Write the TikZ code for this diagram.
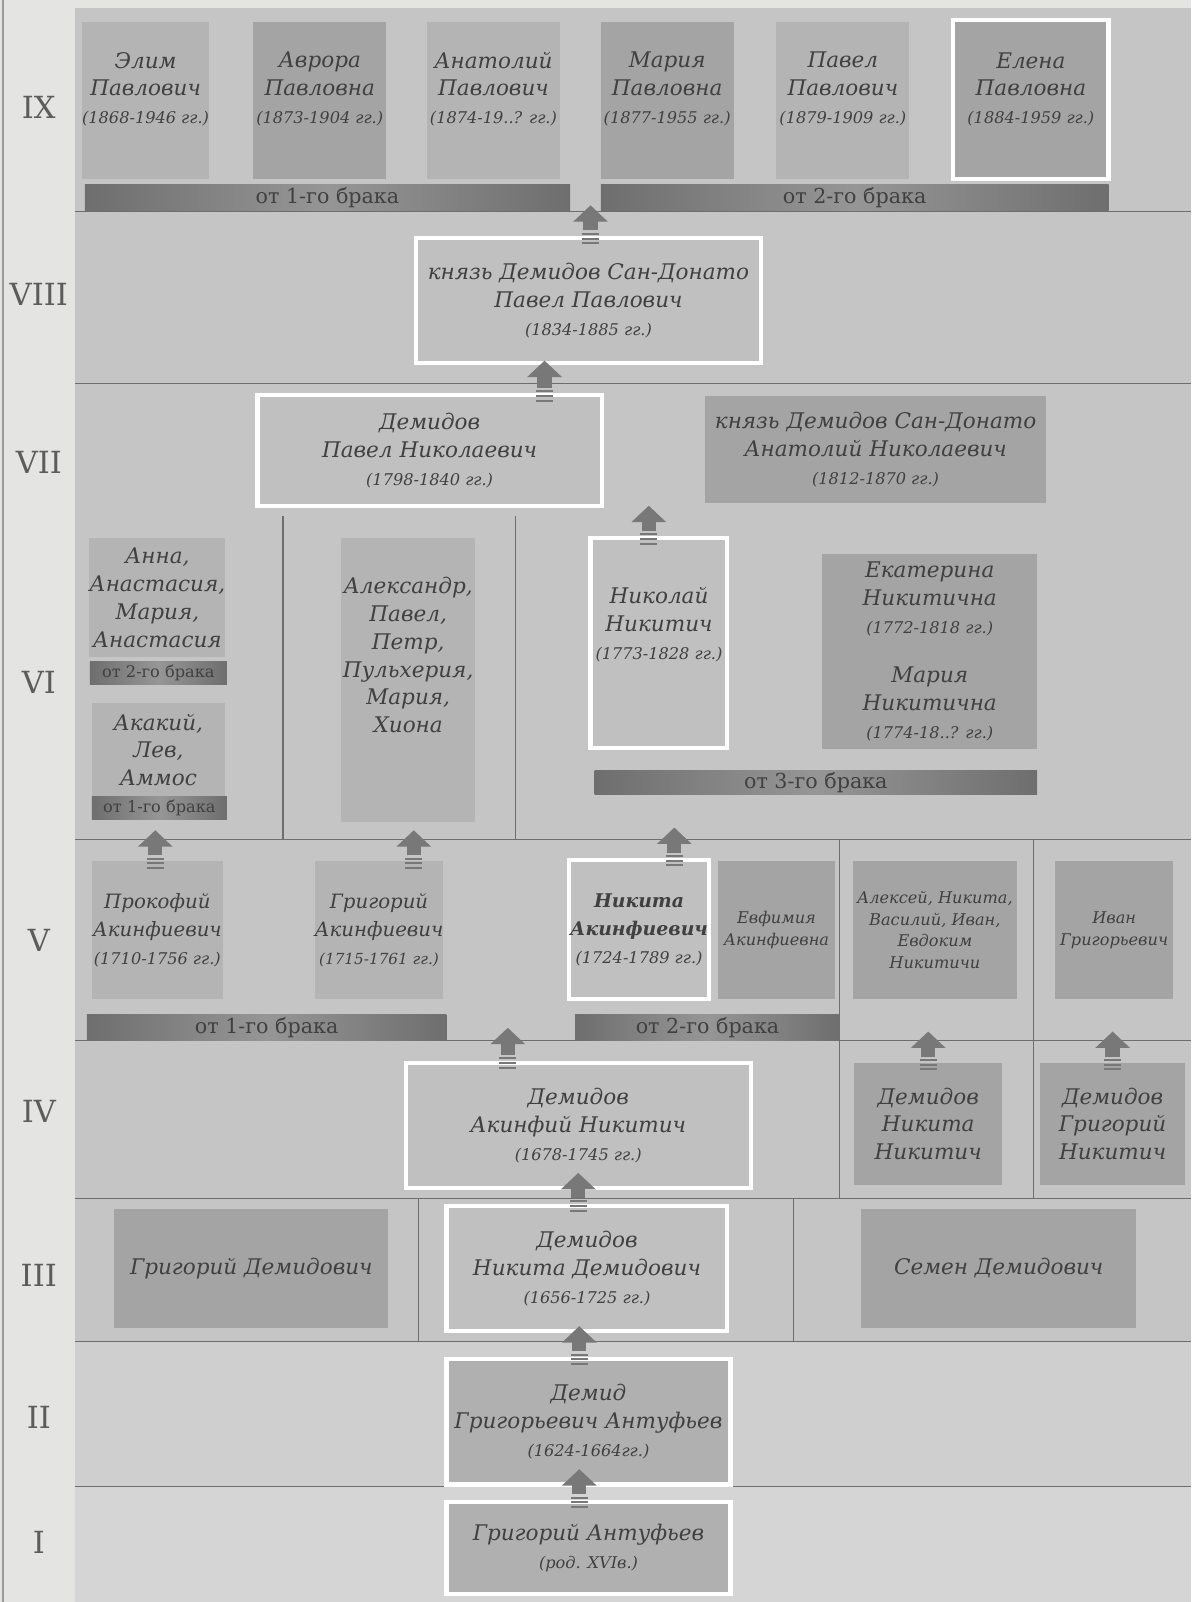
\documentclass[tikz,border=0pt]{standalone}
\usepackage{fontspec}
\setmainfont{DejaVu Serif}
\usetikzlibrary{arrows.meta}
\definecolor{pPaper}{RGB}{228,228,226}
\definecolor{pPanel}{RGB}{197,197,197}
\definecolor{pPanelII}{RGB}{207,207,207}
\definecolor{pPanelI}{RGB}{213,213,213}
\definecolor{pLight}{RGB}{180,180,180}
\definecolor{pDark}{RGB}{164,164,164}
\definecolor{pFrame}{RGB}{192,192,192}
\definecolor{pFrameDark}{RGB}{176,176,176}
\definecolor{pBarDark}{RGB}{110,110,110}
\definecolor{pBarMid}{RGB}{150,150,150}
\definecolor{pInk}{RGB}{64,64,64}
\definecolor{pNum}{RGB}{92,92,92}
\definecolor{pLine}{RGB}{110,110,110}
\definecolor{pArrow}{RGB}{120,120,120}
\newcommand{\lifespan}[1]{{\mdseries\fontsize{9}{11}\selectfont(#1)}}

\begin{document}
\begin{tikzpicture}[x=0.02cm, y=-0.02cm,
  boxsize/.style 2 args={minimum width=#1*0.02cm, minimum height=#2*0.02cm},
  person/.style={inner sep=0pt, align=center, text=pInk, font=\itshape\fontsize{12}{15.5}\selectfont},
  lightbox/.style={person, fill=pLight},
  darkbox/.style={person, fill=pDark},
  framed/.style={person, fill=pFrame, draw=white, line width=0.08cm},
  smallbox/.style={darkbox, font=\itshape\fontsize{9}{12}\selectfont},
  marriage/.style={inner sep=0pt, left color=pBarDark, right color=pBarDark, middle color=pBarMid,
    text=pInk, font=\fontsize{11.5}{13}\selectfont},
  kin/.style={draw=pArrow, line width=0.28cm, shorten <=0.27cm, -{Triangle[width=0.66cm,length=0.32cm]},
    postaction={draw=pArrow, arrows=-, shorten <=0pt, line width=0.34cm,
      dash pattern=on 1.1pt off 1.5pt on 1.1pt off 1.5pt on 1.1pt off 3cm}},
  gen/.style={text=pNum, font=\fontsize{17}{19}\selectfont},
  sep/.style={draw=pLine, line width=0.6pt}
]
  \useasboundingbox (0,0) rectangle (1166,1568);

  % Bands
  \fill[pPaper] (0,0) rectangle (1166,1568);
  \fill[pPanel] (73,8) rectangle (1166,1313);
  \fill[pPanelII] (73,1313) rectangle (1166,1455);
  \fill[pPanelI] (73,1455) rectangle (1166,1568);
  \draw[pLine!70, line width=0.8pt] (3,0) -- (3,1568);

  % Band borders and column borders
  \foreach \y in {207,375,822,1018,1173,1313,1455} {
    \draw[sep] (73,\y) -- (1166,\y);
  }
  \foreach \x/\ya/\yb in {277/505/822, 505/505/822, 822/822/1173, 1012/822/1173, 410/1173/1313, 777/1173/1313} {
    \draw[sep] (\x,\ya) -- (\x,\yb);
  }

  % Generation numbers
  \foreach \g/\y in {IX/105, VIII/288, VII/453, VI/668, V/920, IV/1088, III/1248, II/1387, I/1510} {
    \node[gen] (gen\g) at (38,\y) {\g};
  }

  % IX
  \node[lightbox, text depth=0.5cm, boxsize={125}{153}] (elim) at (142.5,98.5) {Элим\\Павлович\\\lifespan{1868-1946 гг.}};
  \node[darkbox, text depth=0.5cm, boxsize={130}{153}] (avrora) at (313,98.5) {Аврора\\Павловна\\\lifespan{1873-1904 гг.}};
  \node[lightbox, text depth=0.5cm, boxsize={130}{153}] (anatolyP) at (483,98.5) {Анатолий\\Павлович\\\lifespan{1874-19..? гг.}};
  \node[darkbox, text depth=0.5cm, boxsize={130}{153}] (mariaP) at (653,98.5) {Мария\\Павловна\\\lifespan{1877-1955 гг.}};
  \node[lightbox, text depth=0.5cm, boxsize={130}{153}] (pavelP) at (825,98.5) {Павел\\Павлович\\\lifespan{1879-1909 гг.}};
  \node[framed, fill=pDark, text depth=0.45cm, boxsize={152}{155}] (elena) at (1009,97.5) {Елена\\Павловна\\\lifespan{1884-1959 гг.}};
  \node[marriage, boxsize={475}{25}] (marIXa) at (320.5,193.5) {от 1-го брака};
  \node[marriage, boxsize={497}{25}] (marIXb) at (836.5,193.5) {от 2-го брака};

  % VIII
  \node[framed, boxsize={338}{122}] (pavpav) at (576,294) {князь Демидов Сан-Донато\\Павел Павлович\\\lifespan{1834-1885 гг.}};

  % VII
  \node[framed, boxsize={337}{108}] (pavnik) at (420.5,441) {Демидов\\Павел Николаевич\\\lifespan{1798-1840 гг.}};
  \node[darkbox, boxsize={334}{104}] (anatnik) at (857,440) {князь Демидов Сан-Донато\\Анатолий Николаевич\\\lifespan{1812-1870 гг.}};

  % VI
  \node[lightbox, boxsize={132}{116}] (anna) at (154,585) {Анна,\\Анастасия,\\Мария,\\Анастасия};
  \node[marriage, font=\fontsize{9}{10}\selectfont, boxsize={134}{23}] (marVIb) at (155,658.5) {от 2-го брака};
  \node[lightbox, boxsize={130}{92}] (akakiy) at (155,734) {Акакий,\\Лев,\\Аммос};
  \node[marriage, font=\fontsize{9}{10}\selectfont, boxsize={132}{22}] (marVIa) at (156,791) {от 1-го брака};
  \node[lightbox, text depth=1cm, boxsize={131}{278}] (alex) at (399.5,666) {Александр,\\Павел,\\Петр,\\Пульхерия,\\Мария,\\Хиона};
  \node[framed, text depth=0.78cm, boxsize={134}{205}] (nikolai) at (645,629.5) {Николай\\Никитич\\\lifespan{1773-1828 гг.}};
  \node[darkbox, boxsize={210}{191}] (ekaterina) at (910,637.5) {Екатерина\\Никитична\\\lifespan{1772-1818 гг.}\\[12pt]Мария\\Никитична\\\lifespan{1774-18..? гг.}};
  \node[marriage, boxsize={433}{24}] (marVIc) at (798.5,766) {от 3-го брака};

  % V
  \node[lightbox, font=\itshape\fontsize{11}{15.5}\selectfont, boxsize={128}{135}] (prokofiy) at (154,910.5) {Прокофий\\Акинфиевич\\\lifespan{1710-1756 гг.}};
  \node[lightbox, font=\itshape\fontsize{11}{15.5}\selectfont, boxsize={122}{135}] (grigoryA) at (371,910.5) {Григорий\\Акинфиевич\\{\fontsize{8.5}{11}\selectfont(1715-1761 гг.)}};
  \node[framed, font=\bfseries\itshape\fontsize{10.5}{15.5}\selectfont, boxsize={137}{136}] (nikitaA) at (625.5,910) {Никита\\Акинфиевич\\\lifespan{1724-1789 гг.}};
  \node[smallbox, boxsize={114}{135}] (evfimiya) at (760,910.5) {Евфимия\\Акинфиевна};
  \node[smallbox, boxsize={160}{135}] (nikitichi) at (915,910.5) {Алексей, Никита,\\Василий, Иван,\\Евдоким\\Никитичи};
  \node[smallbox, boxsize={115}{135}] (ivanG) at (1090.5,910.5) {Иван\\Григорьевич};
  \node[marriage, boxsize={352}{25}] (marVa) at (261,1005.5) {от 1-го брака};
  \node[marriage, boxsize={259}{25}] (marVb) at (692.5,1005.5) {от 2-го брака};

  % IV
  \node[framed, boxsize={338}{123}] (akinfiy) at (566,1101.5) {Демидов\\Акинфий Никитич\\\lifespan{1678-1745 гг.}};
  \node[darkbox, boxsize={145}{120}] (nikitaN) at (908.5,1100) {Демидов\\Никита\\Никитич};
  \node[darkbox, boxsize={142}{120}] (grigoryN) at (1089,1100) {Демидов\\Григорий\\Никитич};

  % III
  \node[darkbox, boxsize={268}{117}] (grigoryD) at (246,1241.5) {Григорий Демидович};
  \node[framed, boxsize={275}{123}] (nikitaD) at (574.5,1241.5) {Демидов\\Никита Демидович\\\lifespan{1656-1725 гг.}};
  \node[darkbox, boxsize={269}{117}] (semen) at (977.5,1241.5) {Семен Демидович};

  % II and I
  \node[framed, fill=pFrameDark, boxsize={278}{123}] (demid) at (576,1391.5) {Демид\\Григорьевич Антуфьев\\\lifespan{1624-1664гг.}};
  \node[framed, fill=pFrameDark, boxsize={278}{90}] (antufiev) at (576,1515) {Григорий Антуфьев\\\lifespan{род. XVIв.}};

  % Descent arrows, child to parent
  \draw[kin] ([xshift=0.04cm, yshift=-0.16cm]pavpav.north) -- ++(0,-38);
  \draw[kin] ([xshift=2.25cm, yshift=-0.16cm]pavnik.north) -- ++(0,-40);
  \draw[kin] ([xshift=-0.2cm, yshift=-0.16cm]nikolai.north) -- ++(0,-38);
  \draw[kin] ([xshift=-0.04cm, yshift=-0.16cm]prokofiy.north) -- ++(0,-38);
  \draw[kin] ([xshift=0.68cm, yshift=-0.16cm]grigoryA.north) -- ++(0,-38);
  \draw[kin] ([xshift=0.69cm, yshift=-0.16cm]nikitaA.north) -- ++(0,-38);
  \draw[kin] ([xshift=-1.38cm, yshift=-0.16cm]akinfiy.north) -- ++(0,-40);
  \draw[kin] ([yshift=-0.16cm]nikitaN.north) -- ++(0,-38);
  \draw[kin] ([yshift=-0.16cm]grigoryN.north) -- ++(0,-38);
  \draw[kin] ([xshift=-0.17cm, yshift=-0.16cm]nikitaD.north) -- ++(0,-38);
  \draw[kin] ([xshift=-0.18cm, yshift=-0.16cm]demid.north) -- ++(0,-38);
  \draw[kin] ([xshift=-0.18cm, yshift=-0.16cm]antufiev.north) -- ++(0,-38);

\end{tikzpicture}
\end{document}
